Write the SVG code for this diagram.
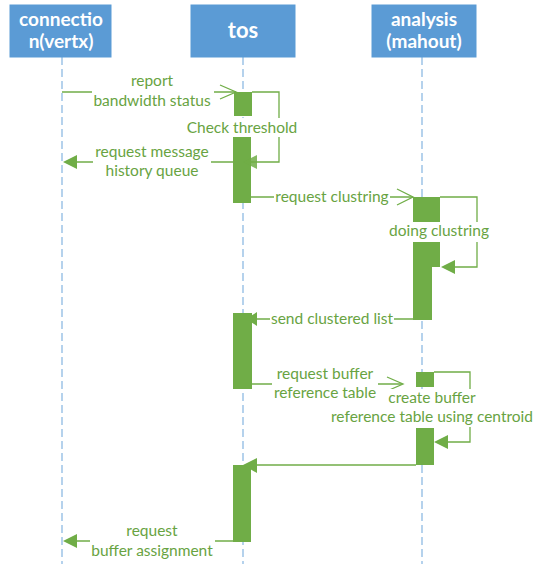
<svg xmlns="http://www.w3.org/2000/svg" width="540" height="564" viewBox="0 0 540 564">
<style>
.box{fill:#5B9BD5;stroke:#5B9BD5}
.ht{font-family:Lato,"Open Sans","Liberation Sans",sans-serif;font-weight:bold;fill:#fff;text-anchor:middle}
.life{stroke:#5B9BD5;stroke-width:1.2;stroke-dasharray:8 4;fill:none;opacity:0.75}
.bar{fill:#70AD47}
.msg{stroke:#70AD47;stroke-width:1.3;fill:none}
.head{fill:#70AD47}
.lbl{font-family:Lato,"Open Sans","Liberation Sans",sans-serif;font-size:15.5px;fill:#68A342;text-anchor:middle}
.bg{fill:#fff}
</style>
<rect width="540" height="564" fill="#fff"/>
<g id="lifelines">
<line class="life" x1="62" y1="57" x2="62" y2="564"/>
<line class="life" x1="243" y1="57" x2="243" y2="564"/>
<line class="life" x1="422" y1="57" x2="422" y2="564"/>
</g>
<g id="node-connection">
<rect class="box" x="10" y="5" width="101" height="52"/>
<text class="ht" x="61" y="26" font-size="19">connectio</text>
<text class="ht" x="61" y="48" font-size="19">n(vertx)</text>
</g>
<g id="node-tos">
<rect class="box" x="191" y="5" width="104" height="52"/>
<text class="ht" x="243" y="38" font-size="22">tos</text>
</g>
<g id="node-analysis">
<rect class="box" x="372" y="5" width="104" height="52"/>
<text class="ht" x="424" y="26" font-size="19">analysis</text>
<text class="ht" x="424" y="48" font-size="19">(mahout)</text>
</g>
<g id="activations">
<rect class="bar" x="234" y="92" width="18" height="24"/>
<rect class="bar" x="233" y="137" width="18" height="66"/>
<rect class="bar" x="413" y="197" width="27" height="25"/>
<path class="bar" d="M413 242 H440 V267 H432 V320 H413 Z"/>
<rect class="bar" x="233" y="313" width="19" height="76"/>
<rect class="bar" x="416" y="372" width="18" height="15"/>
<rect class="bar" x="416" y="428" width="18" height="37"/>
<rect class="bar" x="233" y="465" width="18" height="77"/>
</g>
<g id="connectors">
<line class="msg" x1="62" y1="92" x2="236" y2="92"/>
<polyline class="msg" points="220,85 236,92 220,99"/>
<polyline class="msg" points="252,92 279,92 279,162 250,162"/>
<polygon class="head" points="243,162 257,155 257,169" opacity="0.85"/>
<line class="msg" x1="233" y1="162" x2="70" y2="162"/>
<polygon class="head" points="63,162 77,155 77,169"/>
<line class="msg" x1="251" y1="197" x2="413" y2="197"/>
<polyline class="msg" points="397,189 413,197 397,205"/>
<polyline class="msg" points="440,197 477,197 477,267 450,267"/>
<polygon class="head" points="441,267 455,260 455,274"/>
<line class="msg" x1="413" y1="319" x2="252" y2="319"/>
<polygon class="head" points="246,319 257,312 257,326"/>
<line class="msg" x1="252" y1="384" x2="402" y2="384"/>
<polyline class="msg" points="387,377 403,384 387,391"/>
<polyline class="msg" points="434,372 470,372 470,442 445,442"/>
<polygon class="head" points="434,442 448,435 448,449"/>
<line class="msg" x1="416" y1="465" x2="252" y2="465"/>
<polygon class="head" points="243,465 257,458 257,473"/>
<line class="msg" x1="233" y1="541" x2="70" y2="541"/>
<polygon class="head" points="63,541 77,534 77,548"/>
</g>
<g id="labels">
<rect class="bg" x="92" y="72" width="122" height="38"/>
<text class="lbl" x="152" y="86">report</text>
<text class="lbl" x="152" y="106">bandwidth status</text>
<rect class="bg" x="186" y="118" width="112" height="19"/>
<text class="lbl" x="242" y="133">Check threshold</text>
<rect class="bg" x="93" y="143" width="118" height="38"/>
<text class="lbl" x="152" y="157">request message</text>
<text class="lbl" x="152" y="176">history queue</text>
<rect class="bg" x="274" y="188" width="116" height="18"/>
<text class="lbl" x="332" y="202">request clustring</text>
<rect class="bg" x="389" y="222" width="102" height="20"/>
<text class="lbl" x="439" y="236">doing clustring</text>
<rect class="bg" x="270" y="310" width="124" height="18"/>
<text class="lbl" x="332" y="324">send clustered list</text>
<rect class="bg" x="386" y="389" width="93" height="18"/>
<rect class="bg" x="329" y="407" width="207" height="20"/>
<text class="lbl" x="432" y="403">create buffer</text>
<text class="lbl" x="432" y="422">reference table using centroid</text>
<rect class="bg" x="272" y="365" width="106" height="37"/>
<text class="lbl" x="325" y="379">request buffer</text>
<text class="lbl" x="325" y="398">reference table</text>
<rect class="bg" x="90" y="522" width="125" height="38"/>
<text class="lbl" x="152" y="536">request</text>
<text class="lbl" x="152" y="556">buffer assignment</text>
</g>
</svg>
